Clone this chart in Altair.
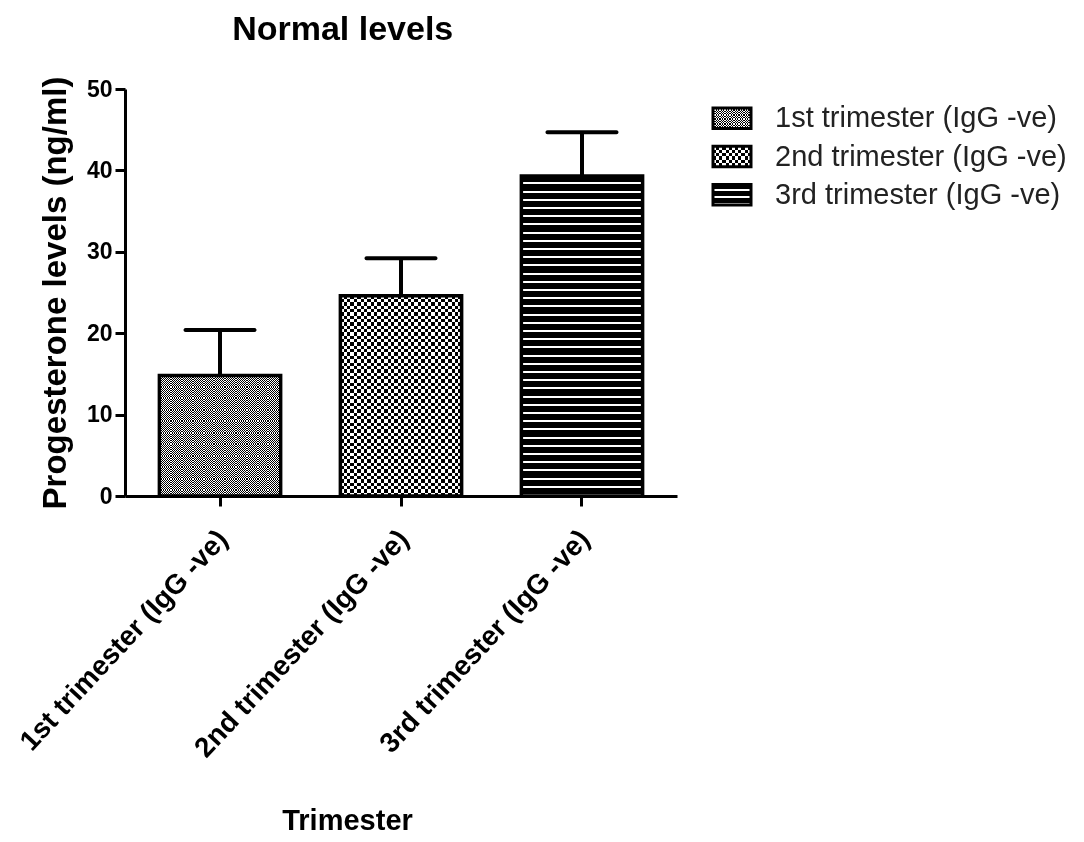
import altair as alt
import pandas as pd

# ---------------- data ----------------
categories = ["1st trimester (IgG -ve)", "2nd trimester (IgG -ve)", "3rd trimester (IgG -ve)"]
means = [14.8, 24.6, 39.3]
sems = [5.6, 4.6, 5.4]
y_ticks = [0, 10, 20, 30, 40, 50]
kinds = ["fine", "coarse", "stripes"]

df = pd.DataFrame({
    "cat": categories,
    "mean": means,
    "upper": [m + s for m, s in zip(means, sems)],
    "kind": kinds,
})

# ---------------- layout / style ----------------
FONT = "Liberation Sans"
W, H = 552, 407
PI, PO = 0.33, 0.19
YMAX = 50
STEP = W / (3 - PI + 2 * PO)
BW = STEP * (1 - PI)


def grad_stops(n, frac, c1, c2):
    out = []
    for k in range(n):
        a, b, e = k / n, (k + frac) / n, (k + 1) / n
        out += [{"offset": a, "color": c1}, {"offset": b, "color": c1},
                {"offset": b, "color": c2}, {"offset": e, "color": c2}]
    return out


def grad(n, frac, c1, c2, vertical):
    return {"gradient": "linear", "x1": 0, "y1": 0,
            "x2": 0 if vertical else 1, "y2": 1 if vertical else 0,
            "stops": grad_stops(max(n, 1), frac, c1, c2)}


def mk(base, small, **kw):
    return base.mark_rect(**kw) if small else base.mark_bar(**kw)


def pattern_layers(base, kind, w, h, small=False):
    """Mark layers (base fill + optional difference-blend layer) drawing a pattern."""
    if kind in ("fine", "coarse"):
        if small:
            cell = 2.5 if kind == "fine" else 6.3
        else:
            cell = 2.2 if kind == "fine" else 6.7
        f1 = grad(round(w / cell), 0.5, "black", "white", vertical=False)
        f2 = grad(round(h / cell), 0.5, "white", "black", vertical=True)
        return [mk(base, small, fill=f1, strokeWidth=0),
                mk(base, small, fill=f2, strokeWidth=0, blend="difference")]
    period = 8.2 if not small else 6.7
    dark = 6.2 if not small else 4.7
    f = grad(round(h / period), dark / period, "black", "white", vertical=True)
    return [mk(base, small, fill=f, strokeWidth=0)]


x_enc = alt.X(
    "cat:N", sort=categories,
    scale=alt.Scale(domain=categories, paddingInner=PI, paddingOuter=PO),
    axis=alt.Axis(title="Trimester", labelAngle=-47, labelAlign="right", labelBaseline="top",
                  labelFontSize=28, labelFontWeight="bold", labelColor="black", labelPadding=19,
                  labelOffset=-7,
                  titleFontSize=29, titleFontWeight="bold", titleColor="black",
                  titleX=222, titleY=310, titleBaseline="top", titleAlign="center",
                  tickSize=10, tickWidth=3, tickColor="black", domainWidth=3, domainColor="black",
                  labelLimit=0, grid=False),
)


def y_enc(field):
    return alt.Y(
        f"{field}:Q",
        scale=alt.Scale(domain=[0, YMAX], nice=False),
        axis=alt.Axis(title="Progesterone levels (ng/ml)", values=y_ticks, format="d",
                      labelFontSize=23, labelFontWeight="bold", labelColor="black", labelPadding=3,
                      titleFontSize=33, titleFontWeight="bold", titleColor="black", titlePadding=14,
                      tickSize=10, tickWidth=3, tickColor="black", domainWidth=3, domainColor="black",
                      grid=False),
    )


src = alt.Chart(df)

err_rule = src.mark_rule(color="black", strokeWidth=4).encode(x=x_enc, y=y_enc("mean"), y2="upper:Q")
err_cap = src.mark_tick(color="black", opacity=1, thickness=4, size=73, cornerRadius=2).encode(
    x=x_enc, y=y_enc("upper"))

layers = [err_rule, err_cap]
for cat, kind, m in zip(categories, kinds, means):
    b = src.transform_filter(alt.datum.cat == cat).encode(x=x_enc, y=y_enc("mean"))
    layers += pattern_layers(b, kind, BW, m / YMAX * H)

outline = src.mark_bar(fill="transparent", stroke="black", strokeWidth=3.5).encode(x=x_enc, y=y_enc("mean"))
layers.append(outline)

main = alt.layer(*layers).properties(width=W, height=H)

# ---------------- legend ----------------
LW, LH = 38, 135
SYM_H = 20
ly = alt.Y("cat:N", sort=categories,
           scale=alt.Scale(domain=categories, paddingInner=0.467, paddingOuter=0.5), axis=None)
lsrc = alt.Chart(df)
leg_layers = []
for cat, kind in zip(categories, kinds):
    b = lsrc.transform_filter(alt.datum.cat == cat).encode(y=ly, x=alt.value(0), x2=alt.value(LW))
    leg_layers += pattern_layers(b, kind, LW, SYM_H, small=True)
leg_layers.append(lsrc.mark_rect(fill="transparent", stroke="black", strokeWidth=3)
                  .encode(y=ly, x=alt.value(0), x2=alt.value(LW)))
leg_layers.append(lsrc.mark_text(align="left", baseline="middle", fontSize=29, color="#222222", font=FONT)
                  .encode(y=ly, x=alt.value(62), text="cat:N"))
legend = alt.layer(*leg_layers).properties(width=LW, height=LH)

chart = alt.hconcat(main, legend, spacing=34).properties(
    title=alt.TitleParams("Normal levels", fontSize=34, fontWeight="bold", anchor="start",
                          dx=217, offset=29, color="black", font=FONT),
    padding={"left": 7, "top": 5, "right": 0, "bottom": 5},
).configure(font=FONT).configure_view(stroke=None)

chart.save("out.html", embed_options={"renderer": "svg", "actions": False})
